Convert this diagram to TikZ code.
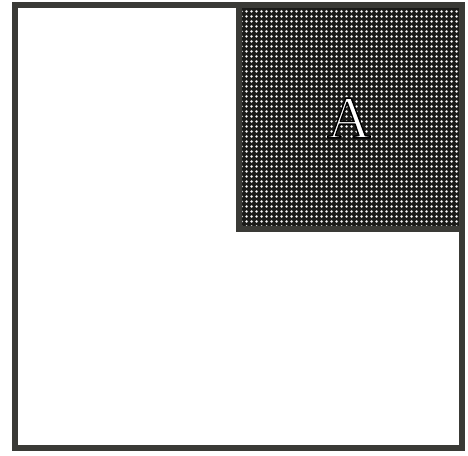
\documentclass[tikz,border=0pt]{standalone}
\usepackage{fontspec}
\setmainfont{Liberation Serif}
\definecolor{frame}{HTML}{3A3A36}
\definecolor{cellbg}{HTML}{1A1A18}
\newcommand{\outlinedtext}[1]{\special{pdf:literal direct 2 Tr 0 0 0 RG 1.5 w 1 j}#1\special{pdf:literal direct 0 Tr}}
\begin{document}
\begin{tikzpicture}[x=1pt,y=1pt,
  frameline/.style={draw=frame,line width=6pt},
  letter/.style={font=\fontsize{60}{62}\selectfont,inner sep=0pt,text=white}]
\useasboundingbox (0,0) rectangle (468,455);
\fill[white] (0,0) rectangle (468,455);
% outer square
\coordinate (o1) at (15,7);
\coordinate (o2) at (462,450);
\draw[frameline] (o1) rectangle (o2);
% inner square A
\coordinate (a1) at (239,226);
\coordinate (a2) at (462,450);
\fill[cellbg] (a1) rectangle (a2);
\begin{scope}
\clip (a1) rectangle (a2);
\foreach \i in {0,...,45} {
  \foreach \j in {0,...,45} {
    \fill[gray!60] (241.5+5*\i,228.5+5*\j) circle (1.5);
    \fill[white] (241.5+5*\i,228.5+5*\j) circle (0.9);
  }
}
\end{scope}
\draw[frameline] (a1) rectangle (a2);
% letter with dark outline
\node[letter] (A) at (349,337) {\outlinedtext{A}};
\end{tikzpicture}
\end{document}
